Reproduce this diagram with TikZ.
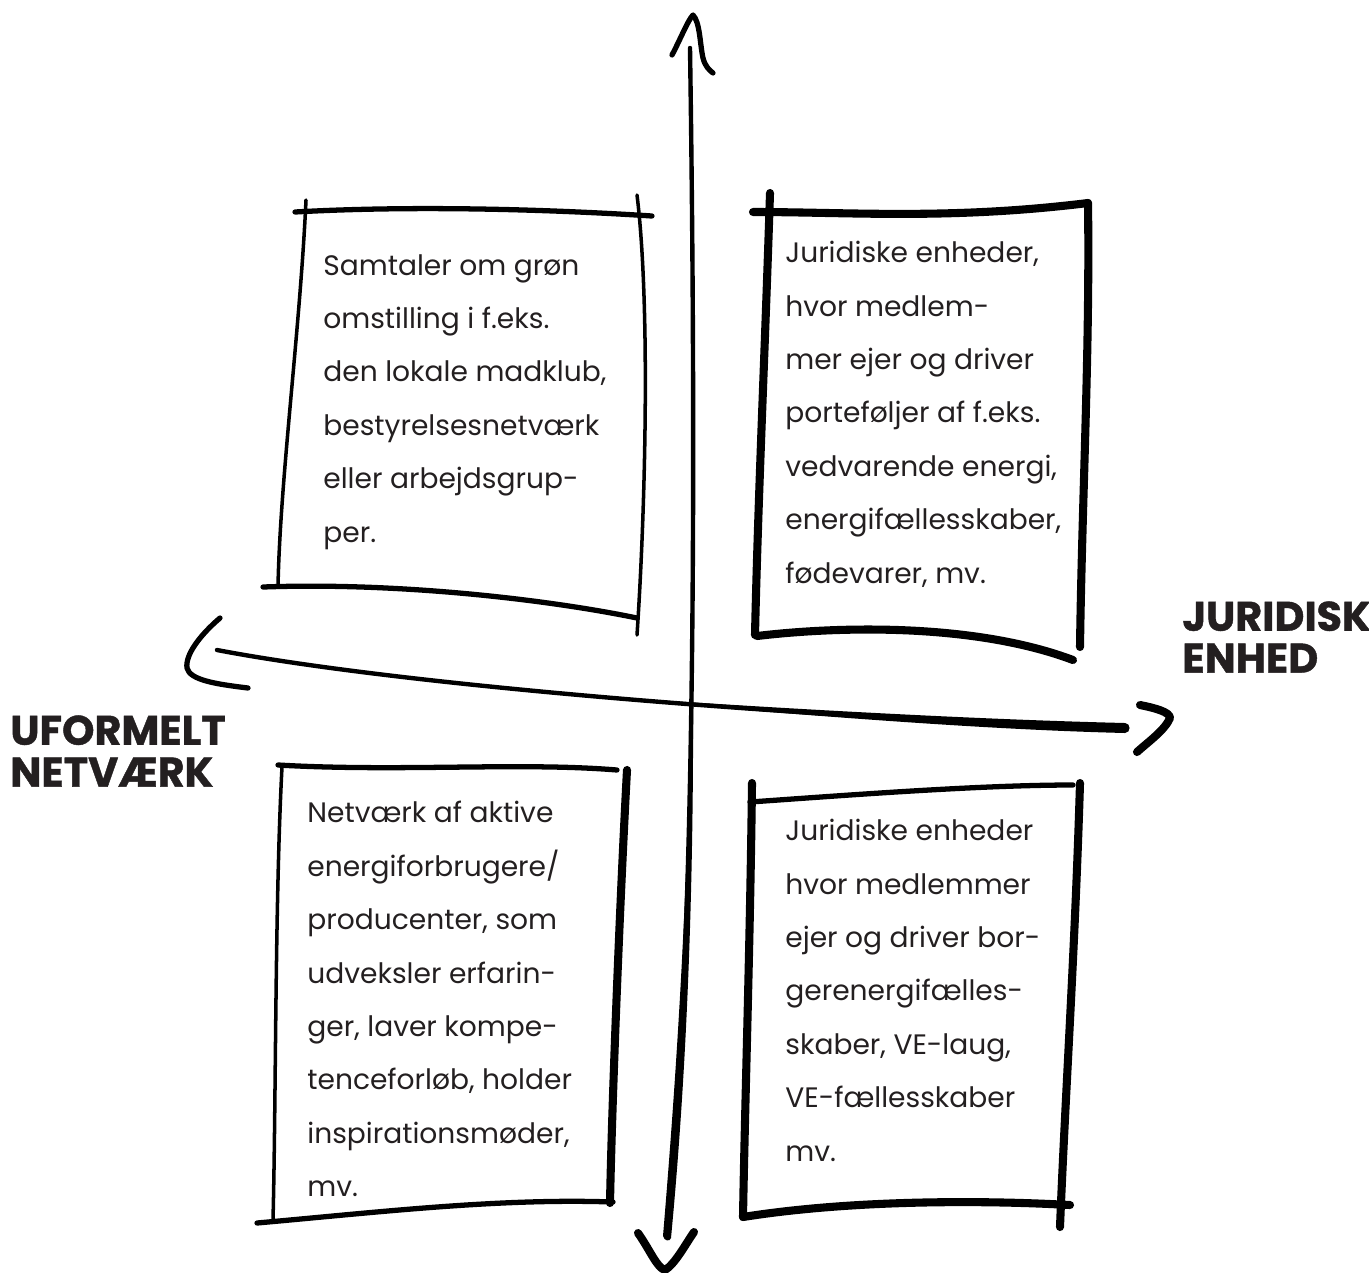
\documentclass[tikz,border=0pt]{standalone}
\usepackage{fontspec}
\setmainfont{Poppins}
\newfontfamily\heavyfont{Poppins}[BoldFeatures={FakeBold=1}]
\usetikzlibrary{positioning}
\definecolor{inkgray}{HTML}{231F20}

\begin{document}
\begin{tikzpicture}[
    x=0.02cm, y=-0.02cm,
    stroke/.style={line cap=round, line join=round, black},
    fine/.style={stroke, line width=2pt},
    medium/.style={stroke, line width=3pt},
    heavy/.style={stroke, line width=4.6pt},
    boxtext/.style={anchor=north west, inner sep=0pt, align=left, text=inkgray,
        font=\fontsize{16}{30.4}\selectfont},
    axistitle/.style={anchor=north west, inner sep=0pt, align=left, text=inkgray,
        font=\heavyfont\bfseries\fontsize{23.5}{23.8}\selectfont}
]
\useasboundingbox (0,0) rectangle (1369,1272);

% Axis end points
\coordinate (top) at (690,48);
\coordinate (bottom) at (667,1237);
\coordinate (left) at (217,650);
\coordinate (right) at (1125,728);

% Vertical axis
\draw[stroke, line width=2.5pt] (top) .. controls (696,450) and (696,950) .. (bottom);
\fill (691,686) .. controls (688,900) and (676,1080) .. (663,1236)
    .. controls (664,1241) and (670,1242) .. (671,1238)
    .. controls (686,1080) and (694,900) .. (693,686) -- cycle;
\draw[medium] (672,55) .. controls (680,40) and (688,20) .. (693,15)
    .. controls (700,22) and (700,45) .. (703,58) .. controls (705,66) and (709,70) .. (713,73);
\draw[heavy] (638,1233) .. controls (650,1250) and (657,1268) .. (665,1270)
    .. controls (675,1264) and (685,1245) .. (694,1232);

% Horizontal axis
\draw[stroke, line width=2.5pt] (left) .. controls (400,685) and (800,718) .. (right);
\fill (617,697.5) .. controls (760,707) and (960,719) .. (1125,723)
    .. controls (1131,723) and (1131,733) .. (1125,733)
    .. controls (960,729) and (760,711) .. (617,699.5) -- cycle;
\draw[medium] (220,618) .. controls (200,635) and (185,655) .. (187,668)
    .. controls (190,680) and (215,684) .. (248,688);
\draw[heavy] (1140,705) .. controls (1155,708) and (1170,712) .. (1170,718)
    .. controls (1165,730) and (1148,742) .. (1137,752);

% Quadrant 1: informal, top left
\draw[medium] (295,212) .. controls (420,205) and (560,210) .. (652,216);
\draw[fine] (306,200) .. controls (300,330) and (280,480) .. (278,587);
\draw[medium] (263,587) .. controls (400,582) and (550,600) .. (637,618);
\draw[fine] (637,195) .. controls (650,300) and (646,500) .. (637,635);
\node[boxtext] (informal) at (323,254) {Samtaler om grøn\\omstilling i f.eks.\\den lokale madklub,\\bestyrelsesnetværk\\eller arbejdsgrup-\\per.};

% Quadrant 2: legal, top right
\draw[heavy] (753,212) .. controls (850,212) and (950,220) .. (1088,203);
\draw[heavy] (770,193) .. controls (765,350) and (758,500) .. (755,635);
\draw[heavy] (757,636) .. controls (850,625) and (980,625) .. (1073,660);
\draw[heavy] (1088,203) .. controls (1090,350) and (1082,500) .. (1080,647);
\node[boxtext] (legal) at (785,241) {Juridiske enheder,\\hvor medlem-\\mer ejer og driver\\porteføljer af f.eks.\\vedvarende energi,\\energifællesskaber,\\fødevarer, mv.};

% Quadrant 3: network, bottom left
\draw[medium] (278,765) .. controls (400,772) and (520,762) .. (617,770);
\draw[fine] (282,767) .. controls (275,900) and (276,1100) .. (273,1220);
\draw[medium] (257,1223) .. controls (380,1212) and (500,1198) .. (613,1202);
\draw[heavy] (627,770) .. controls (620,900) and (612,1100) .. (610,1203);
\node[boxtext] (network) at (307,801) {Netværk af aktive\\energiforbrugere/\\producenter, som\\udveksler erfarin-\\ger, laver kompe-\\tenceforløb, holder\\inspirationsmøder,\\mv.};

% Quadrant 4: community, bottom right
\draw[medium] (750,802) .. controls (850,795) and (980,785) .. (1073,785);
\draw[heavy] (752,783) .. controls (750,950) and (745,1100) .. (743,1217);
\draw[heavy] (743,1217) .. controls (850,1200) and (980,1200) .. (1070,1205);
\draw[heavy] (1080,783) .. controls (1075,950) and (1065,1100) .. (1060,1227);
\node[boxtext] (community) at (785,819) {Juridiske enheder\\hvor medlemmer\\ejer og driver bor-\\gerenergifælles-\\skaber, VE-laug,\\VE-fællesskaber\\mv.};

% Axis titles
\node[axistitle] (uformelt) at (10,715) {UFORMELT\\NETVÆRK};
\node[axistitle] (juridisk) at (1182,601) {JURIDISK\\ENHED};

\end{tikzpicture}
\end{document}
